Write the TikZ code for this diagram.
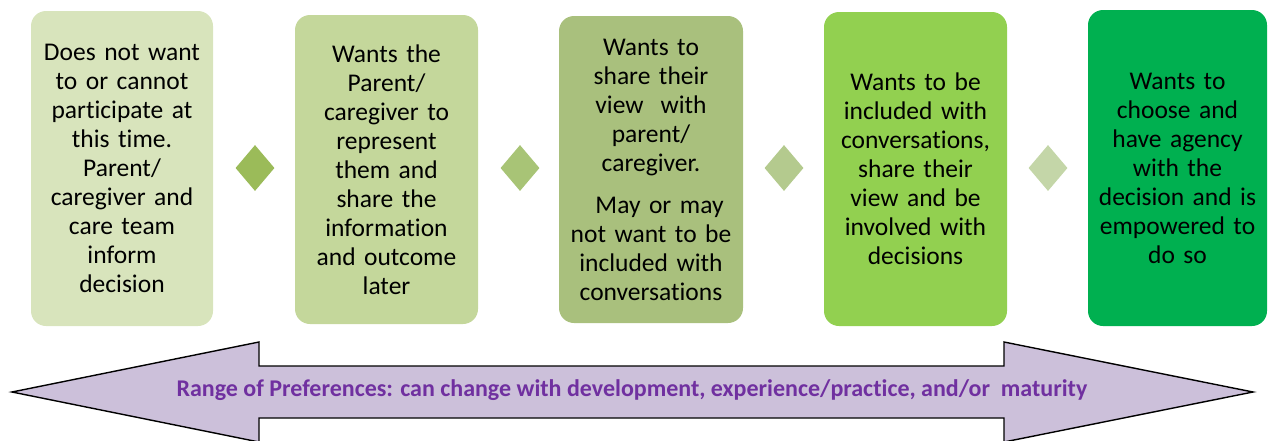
\documentclass[tikz,border=0pt]{standalone}
\usepackage{fontspec}
\setmainfont{Carlito}[Ligatures={NoCommon}]
\usetikzlibrary{shapes.geometric}
\definecolor{bxA}{RGB}{216,228,188}
\definecolor{bxB}{RGB}{196,215,155}
\definecolor{bxC}{RGB}{169,192,125}
\definecolor{bxD}{RGB}{146,208,80}
\definecolor{bxE}{RGB}{0,176,80}
\definecolor{dmA}{RGB}{155,187,89}
\definecolor{dmB}{RGB}{168,196,118}
\definecolor{dmC}{RGB}{180,202,142}
\definecolor{dmD}{RGB}{196,214,168}
\definecolor{arrowfill}{RGB}{204,192,218}
\definecolor{arrowtext}{RGB}{112,48,160}
\tikzset{
  stagebox/.style={rectangle, rounded corners=15pt, inner sep=0pt, align=center,
    font=\fontsize{25.5}{29}\selectfont, text=black},
  sepdiamond/.style={diamond, inner sep=0pt, minimum width=39pt, minimum height=46pt},
  rangearrow/.style={fill=arrowfill, draw=black, line width=1.4pt, line join=miter},
  rangelabel/.style={font=\fontsize{24}{28}\selectfont\bfseries, text=arrowtext}
}
\begin{document}
\begin{tikzpicture}[x=1pt,y=-1pt]
\useasboundingbox (0,0) rectangle (1268,440);
\clip (0,0) rectangle (1268,440);
% stage boxes
\node[stagebox, fill=bxA, minimum width=182pt, minimum height=315pt, text width=178pt] (s1) at (122,168.5)
  {Does not want\\to or cannot\\participate at\\this time.\\Parent/\\caregiver and\\care team\\inform\\decision};
\node[stagebox, fill=bxB, minimum width=183pt, minimum height=309pt, text width=179pt] (s2) at (386.5,169.5)
  {Wants the\\Parent/\\caregiver to\\represent\\them and\\share the\\information\\and outcome\\later};
\node[stagebox, fill=bxC, minimum width=184pt, minimum height=307pt, text width=180pt] (s3) at (651,169.5)
  {Wants to\\share their\\view\ \ with\\parent/\\caregiver.\\[13pt]\ \ May or may\\not want to be\\included with\\conversations};
\node[stagebox, fill=bxD, minimum width=183pt, minimum height=314pt, text width=179pt] (s4) at (915.5,169)
  {Wants to be\\included with\\conversations,\\share their\\view and be\\involved with\\decisions};
\node[stagebox, fill=bxE, minimum width=179pt, minimum height=316pt, text width=175pt] (s5) at (1177.5,168)
  {Wants to\\choose and\\have agency\\with the\\decision and is\\empowered to\\do so};
% separators
\node[sepdiamond, fill=dmA] (d1) at (255,168) {};
\node[sepdiamond, fill=dmB] (d2) at (520,168) {};
\node[sepdiamond, fill=dmC] (d3) at (784,168) {};
\node[sepdiamond, fill=dmD] (d4) at (1048,168) {};
% double-headed range arrow
\coordinate (tipL) at (12,392);
\coordinate (tipR) at (1253,392);
\draw[rangearrow] (tipL) -- (259,342) -- (259,366) -- (1004,366) -- (1004,342) -- (tipR)
  -- (1004,442) -- (1004,418) -- (259,418) -- (259,442) -- cycle;
\node[rangelabel] (range) at (632,390)
  {Range of Preferences: can change with development, experience/practice, and/or\ \ maturity};
\end{tikzpicture}
\end{document}
